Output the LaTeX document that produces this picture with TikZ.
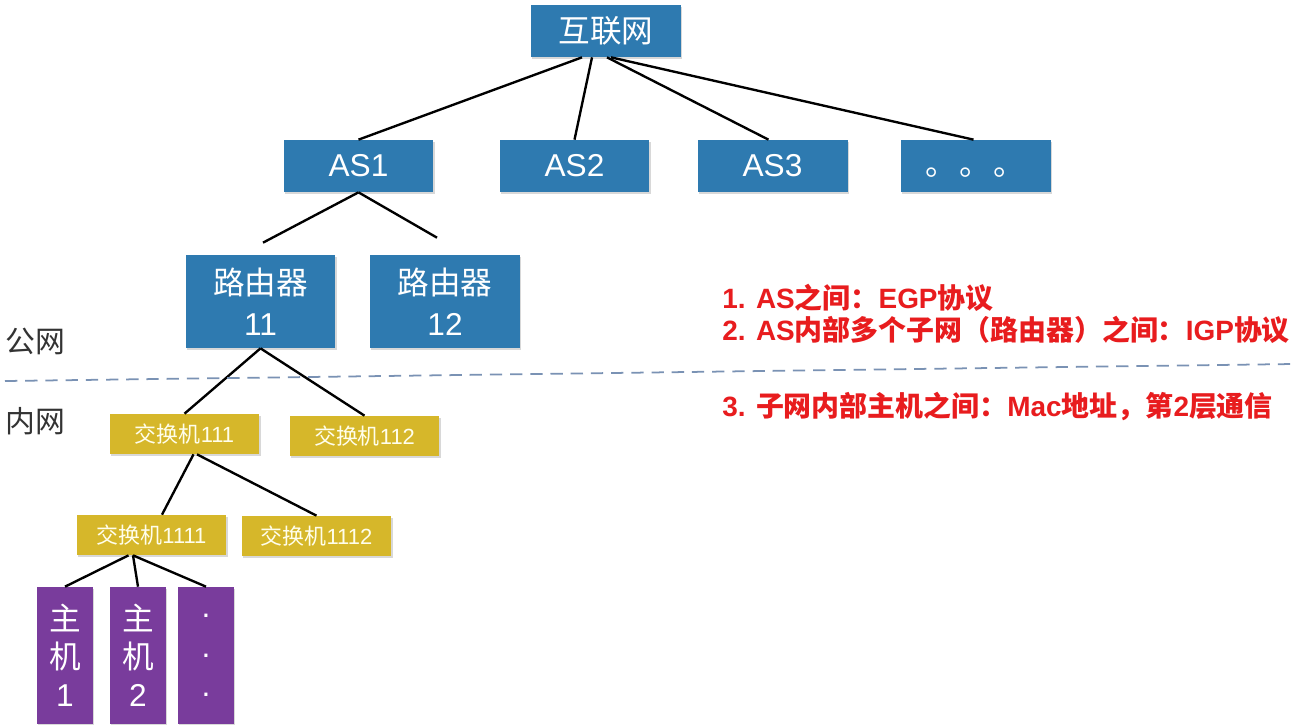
\documentclass[tikz,border=0pt]{standalone}
\usepackage{fontspec}
\setmainfont{Liberation Sans}
\newfontfamily\cjk{Noto Sans CJK SC}
\usetikzlibrary{shadows}
\definecolor{asblue}{RGB}{46,122,176}
\definecolor{swyellow}{RGB}{214,183,42}
\definecolor{hostpurple}{RGB}{121,60,156}
\definecolor{notered}{RGB}{232,28,30}
\definecolor{cutblue}{RGB}{122,146,180}

\begin{document}
\begin{tikzpicture}[x=0.02cm, y=-0.02cm,
		box/.style={inner sep=0pt, align=center, text=white, drop shadow={shadow xshift=0.6pt, shadow yshift=-1pt, opacity=0.3}},
		netbox/.style={box, fill=asblue, minimum width=3cm, minimum height=1.04cm, font=\fontsize{18}{23}\selectfont},
		swbox/.style={box, fill=swyellow, text=white!92!yellow, minimum width=3cm, minimum height=0.8cm, font=\fontsize{12.5}{15}\selectfont},
		hostbox/.style={box, fill=hostpurple, minimum width=1.12cm, minimum height=2.74cm, font=\fontsize{18}{21.5}\selectfont},
		link/.style={line width=1.35pt, black},
		side/.style={text=black!80, font=\cjk\fontsize{17}{20}\selectfont},
		note/.style={anchor=west, inner sep=0pt, text=notered, font=\bfseries\fontsize{15.9}{18}\selectfont}]
		\path[fill=white, use as bounding box] (0,0) rectangle (1293,724);
		
		\node[netbox] (net) at (606,31) {\cjk 互联网};
		\node[netbox] (as1) at (358.5,166) {AS1};
		\node[netbox] (as2) at (574.5,166) {AS2};
		\node[netbox] (as3) at (772.5,166) {AS3};
		\node[netbox] (asx) at (975.5,166) {\raisebox{-5.4pt}[0pt][0pt]{\cjk 。\hspace{1.5pt}。\hspace{1.5pt}。}};
		
		\node[netbox, minimum height=1.86cm] (r11) at (260.5,301.5) {{\cjk 路由器}\\11};
		\node[netbox, minimum height=1.86cm] (r12) at (445,301.5) {{\cjk 路由器}\\12};
		
		\node[swbox] (sw111) at (184.5,434) {{\cjk 交换机}111};
		\node[swbox] (sw112) at (364.5,436) {{\cjk 交换机}112};
		\node[swbox] (sw1111) at (151.5,535) {{\cjk 交换机}1111};
		\node[swbox] (sw1112) at (316.5,536) {{\cjk 交换机}1112};
		
		\node[hostbox] (h1) at (65,655.5) {{\cjk 主}\\{\cjk 机}\\1};
		\node[hostbox] (h2) at (138,655.5) {{\cjk 主}\\{\cjk 机}\\2};
		\node[hostbox, font=\fontsize{18}{22.5}\selectfont] (h3) at (206,655.5) {.\\.\\.};
		
		\draw[link] ([xshift=-0.48cm]net.south) -- (as1.north);
		\draw[link] ([xshift=-0.28cm]net.south) -- (as2.north);
		\draw[link] ([xshift=0.02cm]net.south) -- ([xshift=-0.08cm]as3.north);
		\draw[link] ([xshift=0.1cm]net.south) -- ([xshift=-0.04cm]asx.north);
		
		\draw[link] (as1.south) -- ([xshift=0.05cm, yshift=0.24cm]r11.north);
		\draw[link] (as1.south) -- ([xshift=-0.16cm, yshift=0.34cm]r12.north);
		
		\draw[link] (r11.south) -- (sw111.north);
		\draw[link] (r11.south) -- (sw112.north);
		\draw[link] ([xshift=0.18cm]sw111.south) -- ([xshift=0.21cm]sw1111.north);
		\draw[link] ([xshift=0.25cm]sw111.south) -- (sw1112.north);
		\draw[link] ([xshift=-0.46cm]sw1111.south) -- (h1.north);
		\draw[link] ([xshift=-0.37cm]sw1111.south) -- (h2.north);
		\draw[link] ([xshift=-0.37cm]sw1111.south) -- (h3.north);
		
		\draw[cutblue, line width=1pt, dash pattern=on 7pt off 4.5pt] (5,381) -- (1293,364);
		
		\node[side] (pub) at (35,341) {公网};
		\node[side] (priv) at (35,421) {内网};
		
		\node[note] (n1) at (722,298) {1. AS{\cjk 之间：}EGP{\cjk 协议}};
		\node[note] (n2) at (722,330) {2. AS{\cjk 内部多个子网（路由器）之间：}IGP{\cjk 协议}};
		\node[note] (n3) at (722,406) {3. {\cjk 子网内部主机之间：}Mac{\cjk 地址，第}2{\cjk 层通信}};
	\end{tikzpicture}
\end{document}
